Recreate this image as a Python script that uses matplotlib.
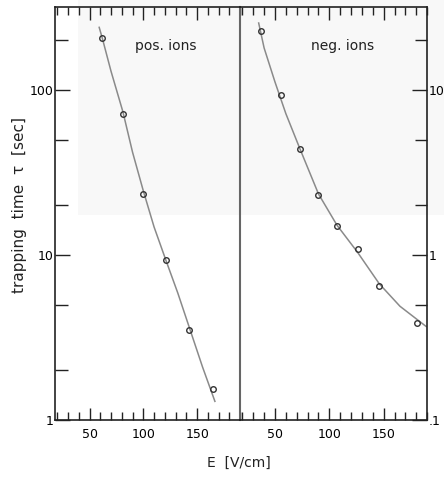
import matplotlib
matplotlib.use("Agg")
import matplotlib.pyplot as plt
from matplotlib.patches import Rectangle
from matplotlib.ticker import FixedLocator, MultipleLocator, NullFormatter

# --- data ---
# positive ions: field E [V/cm] and trapping time tau [sec] (left scale)
pos_E = [62, 81, 100, 121.5, 142.5, 164.5]
pos_tau = [208, 72, 23.5, 9.4, 3.5, 1.55]
# fitted curve (as drawn)
pos_fit_E = [59, 62, 70, 81, 90, 100, 110, 121, 132, 143, 155, 166.5]
pos_fit_tau = [240, 205, 130, 74, 42, 24.5, 14.8, 9.3, 5.9, 3.6, 2.1, 1.3]

# negative ions (right scale, one decade lower)
neg_E = [37, 55.5, 73, 90, 107, 126, 146, 180.5]
neg_tau = [22.9, 9.3, 4.4, 2.3, 1.5, 1.09, 0.65, 0.39]
neg_fit_E = [35, 40, 50, 60, 73, 90, 107, 126, 146, 165, 189]
neg_fit_tau = [25.5, 18, 11.2, 7.2, 4.4, 2.35, 1.52, 1.04, 0.67, 0.49, 0.37]

x_major = [50, 100, 150]
pos_y_major = [1, 10, 100]
pos_y_minor = [2, 5, 20, 50, 200]
pos_y_labels = ["1", "10", "100"]
neg_y_major = [0.1, 1, 10]
neg_y_minor = [0.2, 0.5, 2, 5, 20]
neg_y_labels = [".1", "1", "10"]

line_col = "#8a8a8a"
mark_col = "#333333"
ink = "#222222"

fig = plt.figure(figsize=(4.44, 4.78), dpi=100)
fig.patch.set_facecolor("white")
# faint grey cast of the scan in the upper part
fig.patches.append(Rectangle((78 / 444, 1 - 215 / 478), 1, 1, transform=fig.transFigure,
                             facecolor="#f8f8f8", edgecolor="none", zorder=-10))

ax1 = fig.add_axes([0.124, 0.121, 0.417, 0.864])
ax2 = fig.add_axes([0.541, 0.121, 0.421, 0.864])

ax1.set_yscale("log")
ax1.set_ylim(1, 318)
ax1.yaxis.set_major_locator(FixedLocator(pos_y_major))
ax1.yaxis.set_minor_locator(FixedLocator(pos_y_minor))
ax1.set_yticklabels(pos_y_labels)

ax2.set_yscale("log")
ax2.set_ylim(0.1, 31.8)
ax2.yaxis.set_major_locator(FixedLocator(neg_y_major))
ax2.yaxis.set_minor_locator(FixedLocator(neg_y_minor))
ax2.set_yticklabels(neg_y_labels)

for ax in (ax1, ax2):
    ax.patch.set_alpha(0)
    ax.set_xlim(18, 190)
    ax.xaxis.set_major_locator(FixedLocator(x_major))
    ax.xaxis.set_minor_locator(MultipleLocator(10))
    ax.yaxis.set_minor_formatter(NullFormatter())
    ax.set_xticklabels([str(v) for v in x_major])
    ax.tick_params(axis="x", which="both", direction="in", top=True, bottom=True,
                   labelsize=9, pad=6, width=1.0, color=ink)
    ax.tick_params(axis="x", which="major", length=9)
    ax.tick_params(axis="x", which="minor", length=6)
    ax.tick_params(axis="y", which="both", direction="in", width=1.0,
                   labelsize=9, color=ink, pad=1)
    ax.tick_params(axis="y", which="major", length=11)
    ax.tick_params(axis="y", which="minor", length=9)
    for sp in ax.spines.values():
        sp.set_linewidth(1.2)
        sp.set_color(ink)

ax1.tick_params(axis="y", which="both", left=True, right=False, labelleft=True, labelright=False)
ax1.spines["right"].set_color("#666666")
ax1.spines["right"].set_linewidth(1.5)
ax2.spines["left"].set_visible(False)
ax2.tick_params(axis="y", which="both", left=False, right=True, labelleft=False, labelright=True)

ax1.plot(pos_fit_E, pos_fit_tau, color=line_col, lw=1.1)
ax1.plot(pos_E, pos_tau, "o", mfc="none", mec=mark_col, ms=4, mew=1.0)
ax1.text(0.6, 0.905, "pos. ions", transform=ax1.transAxes, fontsize=10,
         ha="center", va="center", color=ink)

ax2.plot(neg_fit_E, neg_fit_tau, color=line_col, lw=1.1)
ax2.plot(neg_E, neg_tau, "o", mfc="none", mec=mark_col, ms=4, mew=1.0)
ax2.text(0.55, 0.905, "neg. ions", transform=ax2.transAxes, fontsize=10,
         ha="center", va="center", color=ink)

fig.text(0.538, 0.031, "E  [V/cm]", fontsize=10, ha="center", va="center", color=ink)
fig.text(0.045, 0.571, "trapping  time  \u03c4  [sec]", fontsize=11, rotation=90,
         ha="center", va="center", color=ink)

fig.savefig("out.png", dpi=100, facecolor="white")
